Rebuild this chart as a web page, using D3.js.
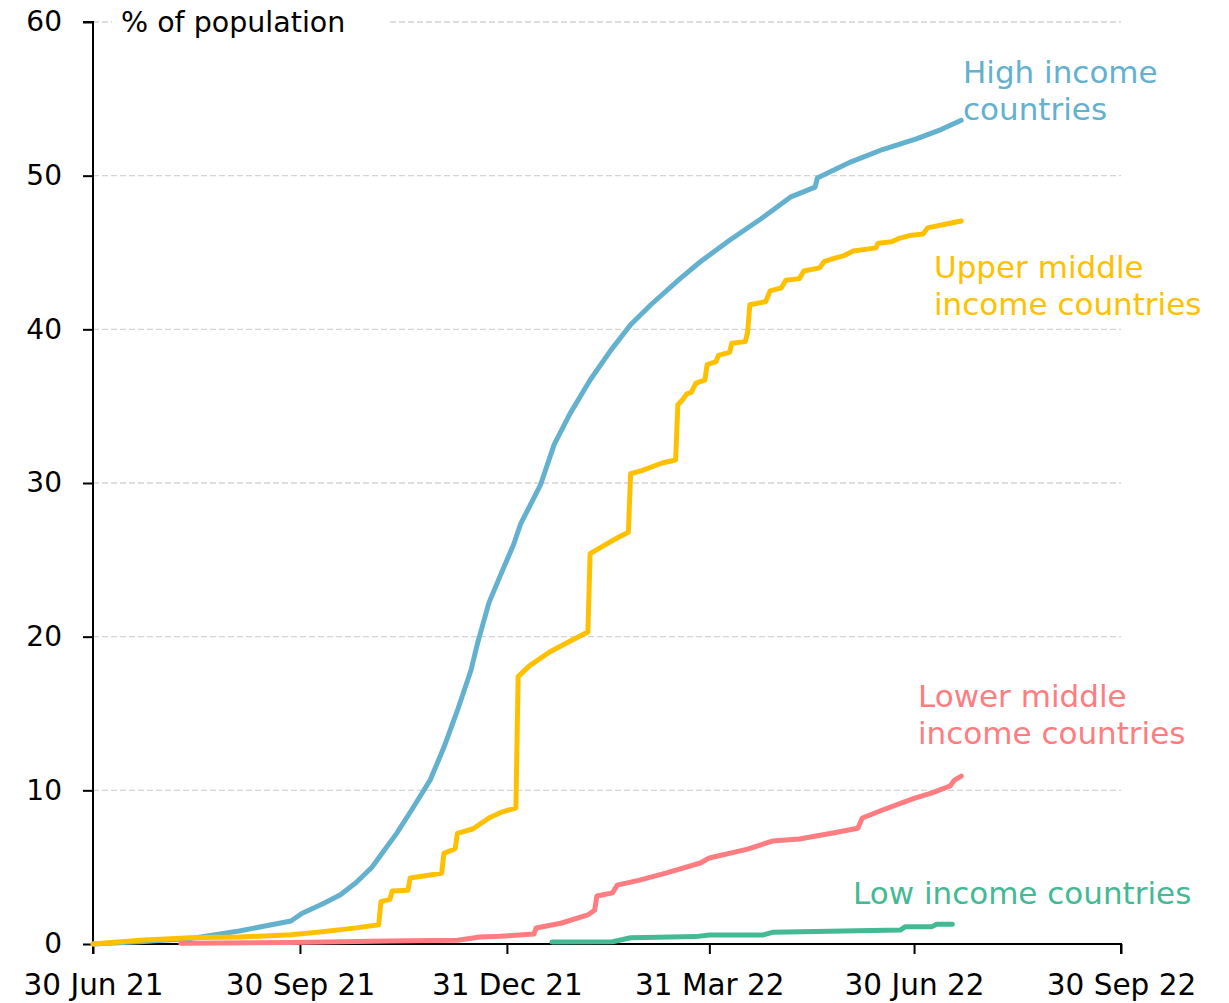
<!DOCTYPE html>
<html>
<head>
<meta charset="utf-8">
<script src="https://cdn.jsdelivr.net/npm/d3@7"></script>
<style>
  body { margin: 0; background: #fff; }
  svg text { font-family: "DejaVu Sans", sans-serif; }
</style>
</head>
<body>
<div id="chart"></div>
<script>
// % of population, by income group
const highIncome = [
  ["2021-06-30", 0.0], ["2021-07-21", 0.15], ["2021-08-12", 0.35], ["2021-09-03", 0.85],
  ["2021-09-26", 1.5], ["2021-10-01", 2.0], ["2021-10-10", 2.6], ["2021-10-18", 3.2],
  ["2021-10-25", 4.0], ["2021-11-01", 5.0], ["2021-11-06", 6.0], ["2021-11-12", 7.2],
  ["2021-11-19", 8.8], ["2021-11-27", 10.7], ["2021-12-03", 12.8], ["2021-12-09", 15.2],
  ["2021-12-15", 17.8], ["2021-12-18", 19.6], ["2021-12-23", 22.2], ["2021-12-29", 24.3],
  ["2022-01-03", 26.0], ["2022-01-06", 27.3], ["2022-01-15", 29.9], ["2022-01-21", 32.5],
  ["2022-01-28", 34.5], ["2022-02-06", 36.7], ["2022-02-15", 38.6], ["2022-02-24", 40.3],
  ["2022-03-05", 41.6], ["2022-03-18", 43.3], ["2022-03-27", 44.4], ["2022-04-09", 45.8],
  ["2022-04-23", 47.2], ["2022-05-06", 48.6], ["2022-05-17", 49.25], ["2022-05-18", 49.85],
  ["2022-06-02", 50.9], ["2022-06-16", 51.7], ["2022-07-01", 52.4], ["2022-07-12", 53.0],
  ["2022-07-21", 53.6]
];

const upperMiddle = [
  ["2021-06-30", 0.0], ["2021-07-21", 0.25], ["2021-08-12", 0.4], ["2021-09-03", 0.45],
  ["2021-09-26", 0.6], ["2021-10-10", 0.8], ["2021-10-25", 1.05], ["2021-11-04", 1.25],
  ["2021-11-05", 2.75], ["2021-11-09", 2.9], ["2021-11-10", 3.45], ["2021-11-17", 3.5],
  ["2021-11-18", 4.3], ["2021-12-02", 4.6], ["2021-12-03", 5.9], ["2021-12-08", 6.2],
  ["2021-12-09", 7.2], ["2021-12-16", 7.5], ["2021-12-23", 8.2], ["2021-12-29", 8.6],
  ["2022-01-04", 8.85], ["2022-01-05", 17.4], ["2022-01-10", 18.1], ["2022-01-19", 19.0],
  ["2022-01-28", 19.7], ["2022-02-05", 20.3], ["2022-02-06", 25.4], ["2022-02-13", 26.0],
  ["2022-02-19", 26.5], ["2022-02-23", 26.8], ["2022-02-24", 30.6], ["2022-03-01", 30.8],
  ["2022-03-10", 31.3], ["2022-03-16", 31.5], ["2022-03-17", 35.1], ["2022-03-19", 35.4],
  ["2022-03-21", 35.8], ["2022-03-23", 35.9], ["2022-03-25", 36.5], ["2022-03-29", 36.7],
  ["2022-03-30", 37.7], ["2022-04-03", 37.9], ["2022-04-04", 38.3], ["2022-04-09", 38.5],
  ["2022-04-10", 39.1], ["2022-04-16", 39.2], ["2022-04-17", 39.8], ["2022-04-18", 41.6],
  ["2022-04-25", 41.8], ["2022-04-27", 42.5], ["2022-05-02", 42.7], ["2022-05-04", 43.2],
  ["2022-05-10", 43.3], ["2022-05-12", 43.8], ["2022-05-19", 44.0], ["2022-05-21", 44.4],
  ["2022-05-25", 44.6], ["2022-05-30", 44.8], ["2022-06-03", 45.1], ["2022-06-13", 45.3],
  ["2022-06-14", 45.6], ["2022-06-20", 45.7], ["2022-06-23", 45.9], ["2022-06-28", 46.1],
  ["2022-07-04", 46.2], ["2022-07-06", 46.6], ["2022-07-16", 46.9], ["2022-07-21", 47.05]
];

const lowerMiddle = [
  ["2021-08-08", 0.05], ["2021-09-26", 0.1], ["2021-11-09", 0.2], ["2021-12-09", 0.25],
  ["2021-12-19", 0.45], ["2021-12-28", 0.5], ["2022-01-12", 0.65], ["2022-01-13", 1.04],
  ["2022-01-24", 1.35], ["2022-02-05", 1.9], ["2022-02-08", 2.2], ["2022-02-09", 3.12],
  ["2022-02-16", 3.33], ["2022-02-18", 3.83], ["2022-02-28", 4.16], ["2022-03-12", 4.63],
  ["2022-03-27", 5.27], ["2022-03-31", 5.6], ["2022-04-17", 6.17], ["2022-04-28", 6.7],
  ["2022-05-10", 6.83], ["2022-05-25", 7.22], ["2022-06-05", 7.53], ["2022-06-07", 8.2],
  ["2022-06-16", 8.72], ["2022-06-30", 9.48], ["2022-07-08", 9.83], ["2022-07-16", 10.28],
  ["2022-07-18", 10.67], ["2022-07-21", 10.93]
];

const lowIncome = [
  ["2022-01-20", 0.13], ["2022-02-16", 0.15], ["2022-02-24", 0.41], ["2022-03-25", 0.48],
  ["2022-03-31", 0.59], ["2022-04-24", 0.59], ["2022-04-28", 0.76], ["2022-06-24", 0.91],
  ["2022-06-26", 1.13], ["2022-07-08", 1.13], ["2022-07-10", 1.28], ["2022-07-17", 1.28]
];

const xTicks = ["2021-06-30", "2021-09-30", "2021-12-31", "2022-03-31", "2022-06-30", "2022-09-30"];
const yTicks = [0, 10, 20, 30, 40, 50, 60];

const series = [
  { name: ["High income", "countries"], data: highIncome, color: "#63B1CF", lx: 963, ly: 83 },
  { name: ["Upper middle", "income countries"], data: upperMiddle, color: "#FFC000", lx: 934, ly: 278 },
  { name: ["Lower middle", "income countries"], data: lowerMiddle, color: "#FF7C80", lx: 918, ly: 707 },
  { name: ["Low income countries"], data: lowIncome, color: "#43B994", lx: 853, ly: 904 }
];

const width = 1229, height = 1003;
const plotLeft = 93, plotRight = 1121, plotTop = 22, plotBottom = 944;
const parse = d3.timeParse("%Y-%m-%d");

const svg = d3.select("#chart").append("svg")
  .attr("width", width)
  .attr("height", height);

const x = d3.scaleTime()
  .domain([parse(xTicks[0]), parse(xTicks[xTicks.length - 1])])
  .range([plotLeft, plotRight]);

const y = d3.scaleLinear()
  .domain([0, 60])
  .range([plotBottom, plotTop]);

// gridlines
svg.append("g")
  .selectAll("line")
  .data(yTicks.filter(d => d > 0))
  .enter()
  .append("line")
  .attr("x1", plotLeft)
  .attr("x2", plotRight)
  .attr("y1", d => y(d))
  .attr("y2", d => y(d))
  .attr("stroke", "#d4d4d4")
  .attr("stroke-width", 1.3)
  .attr("stroke-dasharray", "6,3");

// unit label sits on a white box over the top gridline
svg.append("rect")
  .attr("x", 112)
  .attr("y", 4)
  .attr("width", 276)
  .attr("height", 36)
  .attr("fill", "#fff");

svg.append("text")
  .attr("x", 121)
  .attr("y", y(60))
  .attr("dy", "0.36em")
  .attr("font-size", 28.5)
  .attr("fill", "#000")
  .text("% of population");

// axes
const xAxis = svg.append("g")
  .attr("transform", "translate(0," + plotBottom + ")")
  .call(d3.axisBottom(x)
    .tickValues(xTicks.map(parse))
    .tickFormat(d3.timeFormat("%d %b %y"))
    .tickSize(10)
    .tickPadding(20));

const yAxis = svg.append("g")
  .attr("transform", "translate(" + plotLeft + ",0)")
  .call(d3.axisLeft(y)
    .tickValues(yTicks)
    .tickSize(10)
    .tickPadding(21));

[xAxis, yAxis].forEach(a => {
  a.select(".domain").attr("stroke", "#000").attr("stroke-width", 2);
  a.selectAll(".tick line").attr("stroke", "#000").attr("stroke-width", 2);
  a.selectAll(".tick text")
    .attr("fill", "#000")
    .style("font-family", "'DejaVu Sans', sans-serif");
});
xAxis.selectAll(".tick text").attr("font-size", 29.5);
yAxis.selectAll(".tick text").attr("font-size", 28);
xAxis.select(".domain").attr("d", "M" + plotLeft + ",10V0H" + plotRight + "V10");
yAxis.select(".domain").attr("d", "M-10," + plotTop + "H0V" + plotBottom);

// lines
const line = d3.line()
  .x(d => x(parse(d[0])))
  .y(d => y(d[1]));

svg.append("g")
  .selectAll("path")
  .data(series)
  .enter()
  .append("path")
  .attr("d", d => line(d.data))
  .attr("fill", "none")
  .attr("stroke", d => d.color)
  .attr("stroke-width", 5)
  .attr("stroke-linejoin", "round")
  .attr("stroke-linecap", "round");

// direct labels
const labels = svg.append("g")
  .selectAll("text")
  .data(series)
  .enter()
  .append("text")
  .attr("x", d => d.lx)
  .attr("y", d => d.ly)
  .attr("font-size", 31)
  .attr("fill", d => d.color);

labels.selectAll("tspan")
  .data(d => d.name.map(t => ({ t, lx: d.lx })))
  .enter()
  .append("tspan")
  .attr("x", d => d.lx)
  .attr("dy", (d, i) => i === 0 ? 0 : 37)
  .text(d => d.t);
</script>
</body>
</html>
